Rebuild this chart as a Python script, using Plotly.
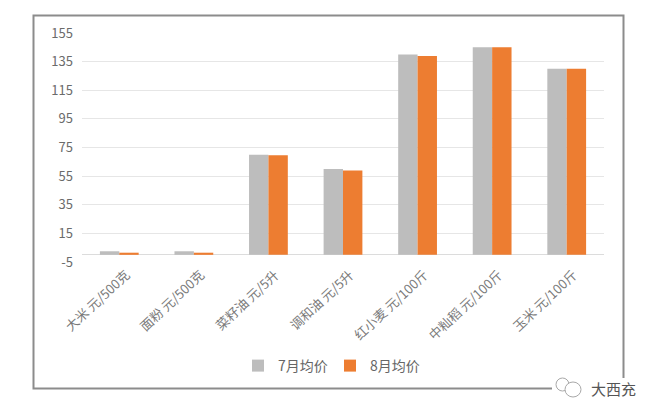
import plotly.graph_objects as go

categories = ["大米 元/500克", "面粉 元/500克", "菜籽油 元/5升", "调和油 元/5升",
              "红小麦 元/100斤", "中籼稻 元/100斤", "玉米 元/100斤"]
july = [2.5, 2.5, 70, 60, 140, 145, 130]
august = [1.5, 1.5, 69.5, 59, 139, 145, 130]
y_ticks = [-5, 15, 35, 55, 75, 95, 115, 135, 155]

W, H = 656, 416
L, R, T, B = 82, 604, 33, 262
FONT = "Noto Sans CJK SC, sans-serif"
def px(x): return (x - L) / (R - L)
def py(y): return (B - y) / (B - T)

fig = go.Figure()
fig.add_bar(name="7月均价", x=categories, y=july,
            marker=dict(color="#bdbdbd", line_width=0))
fig.add_bar(name="8月均价", x=categories, y=august,
            marker=dict(color="#ed7d31", line_width=0))

fig.update_layout(
    width=W, height=H, barmode="group", bargap=0.48, bargroupgap=0,
    margin=dict(l=L, r=W - R, t=T, b=H - B, pad=0),
    paper_bgcolor="white", plot_bgcolor="white",
    font=dict(family=FONT, size=13, color="#6b6b6b"),
    legend=dict(orientation="h", x=px(330), xanchor="center",
                y=py(366), yanchor="middle", font=dict(size=14, color="#666666"),
                itemwidth=30, entrywidthmode="pixels", entrywidth=47,
                traceorder="normal"),
    showlegend=True,
    shapes=[
        dict(type="rect", xref="paper", yref="paper", x0=px(33.5), x1=px(623.5),
             y0=py(388.5), y1=py(15.5), line=dict(color="#8c8c8c", width=2),
             fillcolor="rgba(0,0,0,0)", layer="below"),
        dict(type="rect", xref="paper", yref="paper", x0=px(552), x1=px(640),
             y0=py(398), y1=py(378), line_width=0, fillcolor="white"),
        dict(type="circle", xref="paper", yref="paper", x0=px(556), x1=px(569),
             y0=py(391), y1=py(378), line=dict(color="#a8a8a8", width=1),
             fillcolor="white"),
        dict(type="circle", xref="paper", yref="paper", x0=px(565), x1=px(581),
             y0=py(397), y1=py(382), line=dict(color="#a8a8a8", width=1),
             fillcolor="white"),
    ],
    annotations=[
        dict(text="大西充", xref="paper", yref="paper", x=px(589), y=py(388),
             xanchor="left", yanchor="middle", showarrow=False,
             font=dict(family=FONT, size=15, color="#555555")),
    ],
)
fig.update_yaxes(range=[-5, 155], tickvals=y_ticks, ticktext=[str(v) for v in y_ticks],
                 gridcolor="#e6e6e6", gridwidth=1, zeroline=True, zerolinecolor="#dcdcdc",
                 zerolinewidth=1, showline=False,
                 ticks="", tickfont=dict(size=13, color="#6b6b6b"), ticklabelstandoff=8)
fig.update_xaxes(type="category", tickangle=-43, ticks="", showline=False, showgrid=False,
                 tickfont=dict(size=13, color="#7a7a7a"), ticklabelstandoff=2, ticklabelshift=7)

fig.write_html("out.html", config={"displayModeBar": False},
               post_script="document.body.style.margin='0';")
